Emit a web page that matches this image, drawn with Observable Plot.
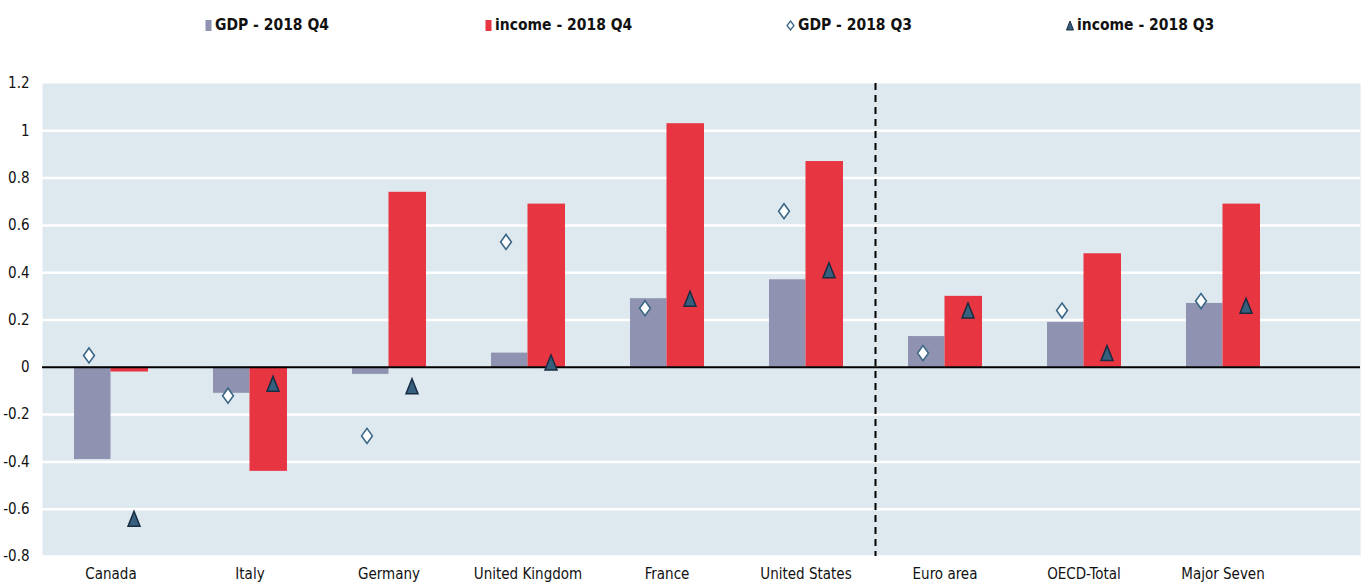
<!DOCTYPE html>
<html>
<head>
<meta charset="utf-8">
<script src="https://cdn.jsdelivr.net/npm/d3@7"></script>
<script src="https://cdn.jsdelivr.net/npm/@observablehq/plot@0.6"></script>
<style>
  html, body { margin: 0; padding: 0; background: #fff; }
  body { width: 1362px; height: 583px; overflow: hidden; font-family: "Liberation Sans Narrow", "DejaVu Sans Condensed", "Arial Narrow", sans-serif; }
  #legend { position: relative; width: 1362px; height: 44px; }
  .item { position: absolute; top: 16px; height: 18px; display: flex; align-items: center; font-weight: bold; font-size: 15.5px; color: #111; white-space: nowrap; }
  .item svg { margin-right: 3px; }
</style>
</head>
<body>
<div id="legend"></div>
<div id="chart"></div>
<script>
const countries = ["Canada", "Italy", "Germany", "United Kingdom", "France", "United States", "Euro area", "OECD-Total", "Major Seven"];
const gdpQ4 = [-0.39, -0.11, -0.03, 0.06, 0.29, 0.37, 0.13, 0.19, 0.27];
const incomeQ4 = [-0.02, -0.44, 0.74, 0.69, 1.03, 0.87, 0.30, 0.48, 0.69];
const gdpQ3 = [0.05, -0.12, -0.29, 0.53, 0.25, 0.66, 0.06, 0.24, 0.28];
const incomeQ3 = [-0.64, -0.07, -0.08, 0.02, 0.29, 0.41, 0.24, 0.06, 0.26];
const yTicks = [-0.8, -0.6, -0.4, -0.2, 0, 0.2, 0.4, 0.6, 0.8, 1, 1.2];
const seriesNames = ["GDP - 2018 Q4", "income - 2018 Q4", "GDP - 2018 Q3", "income - 2018 Q3"];
const dividerBefore = "Euro area";

const colors = {
  gdpBar: "#8f92b0",
  incomeBar: "#e73541",
  diamondStroke: "#3b6787",
  triFill: "#37607f",
  triStroke: "#182c42",
  bg: "#dee8ef"
};

const rows = countries.map((c, i) => ({
  country: c, gdpQ4: gdpQ4[i], incomeQ4: incomeQ4[i], gdpQ3: gdpQ3[i], incomeQ3: incomeQ3[i]
}));

// custom tall diamond and triangle symbols
const tallDiamond = {
  draw(ctx, size) {
    const r = Math.sqrt(size / Math.PI);
    const w = r * 0.72;
    ctx.moveTo(0, -r);
    ctx.lineTo(w, 0);
    ctx.lineTo(0, r);
    ctx.lineTo(-w, 0);
    ctx.closePath();
  }
};
const tallTriangle = {
  draw(ctx, size) {
    const r = Math.sqrt(size / Math.PI);
    const w = r * 0.8;
    ctx.moveTo(0, -r);
    ctx.lineTo(w, r);
    ctx.lineTo(-w, r);
    ctx.closePath();
  }
};

// Legend
const legend = document.getElementById("legend");
const legendLefts = [205, 485, 786, 1066];
const swatches = [
  `<svg width="7" height="12"><rect x="0.5" y="1" width="6" height="11" fill="${colors.gdpBar}"/></svg>`,
  `<svg width="7" height="12"><rect x="0.5" y="1" width="6" height="11" fill="${colors.incomeBar}"/></svg>`,
  `<svg width="9" height="12"><path d="M4.5,2 L8,6.5 L4.5,11 L1,6.5 Z" fill="#fff" stroke="${colors.diamondStroke}" stroke-width="1.3"/></svg>`,
  `<svg width="8" height="12"><path d="M4,2 L7.5,11 L0.5,11 Z" fill="${colors.triFill}" stroke="${colors.triStroke}" stroke-width="1"/></svg>`
];
seriesNames.forEach((name, i) => {
  const d = document.createElement("div");
  d.className = "item";
  d.style.left = legendLefts[i] + "px";
  d.innerHTML = swatches[i] + `<span>${name}</span>`;
  legend.appendChild(d);
});

const half = 69.5;
const chart = Plot.plot({
  width: 1362,
  height: 539,
  marginLeft: 42,
  marginRight: 2,
  marginTop: 39,
  marginBottom: 27,
  style: {
    fontFamily: '"Liberation Sans Narrow", "DejaVu Sans Condensed", "Arial Narrow", sans-serif',
    fontSize: "15px",
    color: "#111",
    background: "transparent",
    overflow: "visible"
  },
  x: { domain: countries, range: [41, 1292], padding: 0, label: null, tickSize: 0, tickPadding: 12 },
  y: { domain: [-0.8, 1.2], ticks: yTicks, tickFormat: d => String(d), tickSize: 0, tickPadding: 13, label: null },
  marks: [
    Plot.frame({ fill: colors.bg, stroke: null }),
    Plot.ruleY(yTicks.filter(d => d !== 0 && d !== 1.2), { stroke: "#ffffff", strokeWidth: 2.5 }),
    Plot.barY(rows, { x: "country", y: "gdpQ4", fill: colors.gdpBar, insetLeft: 33, insetRight: half }),
    Plot.barY(rows, { x: "country", y: "incomeQ4", fill: colors.incomeBar, insetLeft: half, insetRight: 32 }),
    Plot.ruleY([0], { stroke: "#000", strokeWidth: 2 }),
    Plot.ruleX([dividerBefore], { dx: -half, stroke: "#000", strokeWidth: 2, strokeDasharray: "7,5" }),
    Plot.dot(rows, { x: "country", y: "gdpQ3", dx: -22, symbol: tallDiamond, r: 7.5, fill: "#fff", stroke: colors.diamondStroke, strokeWidth: 1.6 }),
    Plot.dot(rows, { x: "country", y: "incomeQ3", dx: 23, symbol: tallTriangle, r: 7.5, fill: colors.triFill, stroke: colors.triStroke, strokeWidth: 1.5 })
  ]
});
document.getElementById("chart").appendChild(chart);
</script>
</body>
</html>
